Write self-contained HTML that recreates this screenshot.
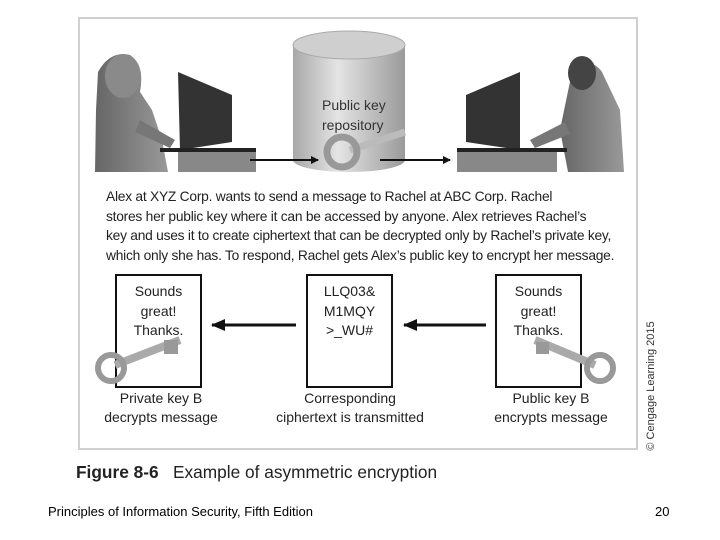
<!DOCTYPE html>
<html><head><meta charset="utf-8"><style>
body{margin:0;width:720px;height:540px;background:#fff;position:relative;overflow:hidden;font-family:"Liberation Sans",sans-serif}
.t{position:absolute;white-space:nowrap;color:#222}
.p{font-size:13.8px;left:106px;letter-spacing:-0.25px;transform-origin:left top}
.box{position:absolute;border:2.5px solid #111;background:#fff;width:87px;height:114px;top:274px;text-align:center;font-size:14px;line-height:19.5px;padding-top:6px;box-sizing:border-box;color:#222}
.lab{position:absolute;text-align:center;font-size:14px;line-height:19px;width:160px;color:#222}
</style></head><body>
<div style="position:absolute;left:78px;top:17px;width:556px;height:429px;border:2px solid #d0d0d0"></div>
<svg width="720" height="540" style="position:absolute;left:0;top:0">
<defs>
<linearGradient id="cyl" x1="0" x2="1"><stop offset="0" stop-color="#a8a8a8"/><stop offset=".4" stop-color="#e4e4e4"/><stop offset="1" stop-color="#9a9a9a"/></linearGradient>
<linearGradient id="g2" x1="0" x2="1"><stop offset="0" stop-color="#666"/><stop offset="1" stop-color="#999"/></linearGradient>
<marker id="a" markerWidth="8" markerHeight="8" refX="7" refY="4" orient="auto" markerUnits="userSpaceOnUse"><path d="M0,0L8,4L0,8z" fill="#111"/></marker>
<marker id="b" markerWidth="14" markerHeight="12" refX="13" refY="6" orient="auto" markerUnits="userSpaceOnUse"><path d="M0,0L14,6L0,12z" fill="#111"/></marker>
</defs>
<path d="M293,45 L293,160 A56,12 0 0 0 405,160 L405,45 Z" fill="url(#cyl)"/>
<ellipse cx="349" cy="45" rx="56" ry="14" fill="#cfcfcf" stroke="#aaa"/>
<line x1="350" y1="150" x2="405" y2="132" stroke="#bbb" stroke-width="7"/>
<circle cx="342" cy="152" r="15" fill="none" stroke="#999" stroke-width="7"/>
<path d="M98,72 Q110,50 130,55 Q145,65 140,92 L152,110 L162,140 L168,172 L95,172 L96,110 Z" fill="url(#g2)"/>
<ellipse cx="123" cy="76" rx="18" ry="22" fill="#8a8a8a"/>
<path d="M140,120 L175,140 L170,148 L135,132 Z" fill="#777"/>
<path d="M178,72 L232,95 L232,142 L180,150 Z" fill="#333"/>
<rect x="178" y="150" width="78" height="22" fill="#888"/>
<rect x="160" y="148" width="96" height="4" fill="#222"/>
<path d="M572,72 Q590,55 602,72 L620,110 L624,172 L568,172 L560,130 Z" fill="url(#g2)"/>
<ellipse cx="582" cy="73" rx="14" ry="17" fill="#444"/>
<path d="M565,122 L530,140 L535,148 L570,134 Z" fill="#777"/>
<path d="M520,72 L466,95 L466,142 L520,150 Z" fill="#333"/>
<rect x="457" y="150" width="100" height="22" fill="#888"/>
<rect x="457" y="148" width="110" height="4" fill="#222"/>
<line x1="250" y1="160" x2="318" y2="160" stroke="#111" stroke-width="2" marker-end="url(#a)"/>
<line x1="380" y1="160" x2="450" y2="160" stroke="#111" stroke-width="2" marker-end="url(#a)"/>
<line x1="296" y1="325" x2="212" y2="325" stroke="#111" stroke-width="3" marker-end="url(#b)"/>
<line x1="486" y1="325" x2="404" y2="325" stroke="#111" stroke-width="3" marker-end="url(#b)"/>
</svg>
<div class="t" style="left:322px;top:95px;font-size:14px;line-height:20px;text-align:center;width:56px;color:#333">Public key<br>repository</div>
<div class="t p" style="top:189px">Alex at XYZ Corp. wants to send a message to Rachel at ABC Corp. Rachel</div>
<div class="t p" style="top:209px">stores her public key where it can be accessed by anyone. Alex retrieves Rachel’s</div>
<div class="t p" style="top:228px">key and uses it to create ciphertext that can be decrypted only by Rachel’s private key,</div>
<div class="t p" style="top:248px">which only she has. To respond, Rachel gets Alex’s public key to encrypt her message.</div>
<div class="box" style="left:115px">Sounds<br>great!<br>Thanks.</div>
<div class="box" style="left:306px">LLQ03&amp;<br>M1MQY<br>&gt;_WU#</div>
<div class="box" style="left:495px">Sounds<br>great!<br>Thanks.</div>
<svg width="720" height="540" style="position:absolute;left:0;top:0">
<line x1="115" y1="365" x2="180" y2="340" stroke="#aaa" stroke-width="8"/>
<circle cx="111" cy="368" r="13" fill="none" stroke="#999" stroke-width="6"/>
<rect x="164" y="340" width="14" height="14" fill="#999"/>
<line x1="595" y1="365" x2="535" y2="340" stroke="#aaa" stroke-width="8"/>
<circle cx="600" cy="368" r="13" fill="none" stroke="#999" stroke-width="6"/>
<rect x="536" y="342" width="13" height="12" fill="#999"/>
</svg>
<div class="lab" style="left:81px;top:389px">Private key B<br>decrypts message</div>
<div class="lab" style="left:270px;top:389px">Corresponding<br>ciphertext is transmitted</div>
<div class="lab" style="left:471px;top:389px">Public key B<br>encrypts message</div>
<div class="t" style="left:586px;top:380px;font-size:11px;transform:rotate(-90deg);transform-origin:center;width:130px;text-align:center;color:#333">© Cengage Learning 2015</div>
<div class="t" style="left:76px;top:462px;font-size:17.3px;color:#222"><b>Figure 8-6</b>&nbsp;&nbsp; Example of asymmetric encryption</div>
<div class="t" style="left:48px;top:504px;font-size:13px;color:#000">Principles of Information Security, Fifth Edition</div>
<div class="t" style="left:655px;top:504px;font-size:13px;color:#000">20</div>
</body></html>
